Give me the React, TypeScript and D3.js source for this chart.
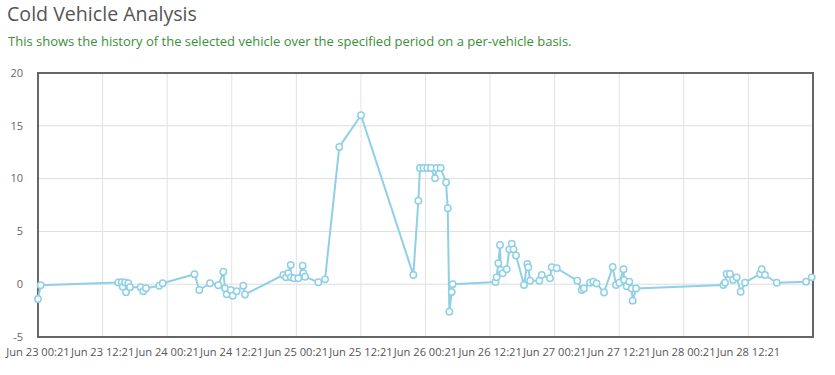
import React from "react";
import * as d3 from "d3";

const TITLE = "Cold Vehicle Analysis";
const SUBTITLE = "This shows the history of the selected vehicle over the specified period on a per-vehicle basis.";

// hours since Jun 23 00:21
const hoursOffset = [
  0, 0.5, 14.92, 15.55, 15.74, 16.17, 16.35, 16.78, 17.09, 19.08, 19.57, 20.07, 22.54, 23.17,
  29.08, 29.97, 31.96, 33.5, 34.43, 34.75, 35.06, 35.8, 36.18, 36.92, 38.15, 38.46,
  45.58, 46.08, 46.51, 46.96, 46.97, 47.57, 48.37, 49.18, 49.3, 49.62, 52.08, 53.33,
  55.98, 60.02, 69.74, 70.67, 70.98, 71.63, 72.33, 73.02, 73.77, 74.08, 74.83, 75.82, 76.13,
  76.43, 76.87, 77.05, 85.01, 85.2, 85.53, 85.85, 85.98, 86.35, 87.09, 87.57, 88.02, 88.35,
  88.82, 90.3, 90.92, 91.1, 91.42, 93.15, 93.59, 95.13, 95.45, 96.38, 100.2, 101.03, 101.45,
  102.57, 103.18, 103.78, 105.17, 106.78, 107.4, 108.01, 108.8, 108.9, 109.38, 109.86, 110.31,
  110.5, 111.12, 127.33, 127.65, 127.96, 128.57, 129.15, 129.82, 130.56, 131.37, 134.15, 134.47,
  135.08, 137.26, 142.7, 143.76,
];
const values = [
  -1.4, -0.1, 0.16, 0.18, -0.24, 0.16, -0.77, 0.09, -0.29, -0.29, -0.67, -0.39, -0.14, 0.09,
  0.95, -0.55, 0.09, -0.1, 1.18, -0.39, -0.96, -0.55, -1.09, -0.67, -0.14, -0.97,
  0.87, 0.65, 1.03, 1.82, 0.65, 0.56, 0.56, 1.75, 1.03, 0.71, 0.18, 0.46,
  13.0, 16.0, 0.87, 7.9, 11.0, 11.0, 11.0, 11.0, 10.03, 11.0, 11.0, 9.63, 7.19,
  -2.6, -0.74, 0.0, 0.21, 0.65, 1.98, 3.71, 1.34, 1.03, 1.41, 3.3, 3.83, 3.3,
  2.72, -0.08, 1.91, 1.6, 0.33, 0.33, 0.87, 0.56, 1.6, 1.51, 0.33, -0.55, -0.41,
  0.14, 0.24, 0.07, -0.79, 1.63, -0.08, 0.14, 1.41, 0.4, -0.2, 0.24, -0.41,
  -1.56, -0.41, -0.08, 0.14, 0.97, 0.97, 0.4, 0.65, -0.71, 0.14, 0.97, 1.41,
  0.87, 0.14, 0.24, 0.65,
];
const yTicks = [-5, 0, 5, 10, 15, 20];
const xTickLabels = [
  "Jun 23 00:21", "Jun 23 12:21", "Jun 24 00:21", "Jun 24 12:21", "Jun 25 00:21", "Jun 25 12:21",
  "Jun 26 00:21", "Jun 26 12:21", "Jun 27 00:21", "Jun 27 12:21", "Jun 28 00:21", "Jun 28 12:21",
];

const START = new Date(2024, 5, 23, 0, 21);
const HOUR = 3600 * 1000;

export default function App() {
  const left = 38, right = 813, top = 73, bottom = 337;
  const x = d3.scaleTime()
    .domain([START, new Date(START.getTime() + 144 * HOUR)])
    .range([left, right]);
  const y = d3.scaleLinear().domain([-5, 20]).range([bottom, top]);
  const data = hoursOffset.map((h, i) => ({ t: new Date(START.getTime() + h * HOUR), v: values[i] }));
  const xTicks = xTickLabels.map((_, i) => new Date(START.getTime() + i * 12 * HOUR));
  const line = d3.line<{ t: Date; v: number }>().x(d => x(d.t)).y(d => y(d.v));
  const blue = "#8fd0e6";
  const font = "'Open Sans', sans-serif";

  return (
    <svg width={835} height={375} style={{ position: "absolute", left: 0, top: 0 }} fontFamily={font}>
      <rect width={835} height={375} fill="#fff" />
      <text x={7} y={21} fontSize={19.6} fill="#555">{TITLE}</text>
      <text x={8} y={46} fontSize={13} fill="#3a8f3a">{SUBTITLE}</text>
      {yTicks.map(t => (
        <g key={"y" + t}>
          {t > -5 && t < 20 && (
            <line x1={left} x2={right} y1={y(t)} y2={y(t)} stroke="#dddddd" strokeWidth={1} />
          )}
          <text x={23} y={y(t)} dy="0.35em" textAnchor="end" fontSize={11} fill="#666">{t}</text>
        </g>
      ))}
      {xTicks.map((t, i) => (
        <g key={"x" + i}>
          {i > 0 && <line x1={x(t)} x2={x(t)} y1={top} y2={bottom} stroke="#e2e2e2" strokeWidth={1} />}
          <text x={x(t)} y={356} textAnchor="middle" fontSize={11.1} fill="#555">{xTickLabels[i]}</text>
        </g>
      ))}
      <rect x={left} y={top} width={right - left} height={bottom - top} fill="none" stroke="#666" strokeWidth={2} />
      <path d={line(data) || ""} fill="none" stroke={blue} strokeWidth={2} strokeLinejoin="round" />
      {data.map((d, i) => (
        <circle key={i} cx={x(d.t)} cy={y(d.v)} r={3.2} fill="#fff" stroke={blue} strokeWidth={1.5} />
      ))}
    </svg>
  );
}
